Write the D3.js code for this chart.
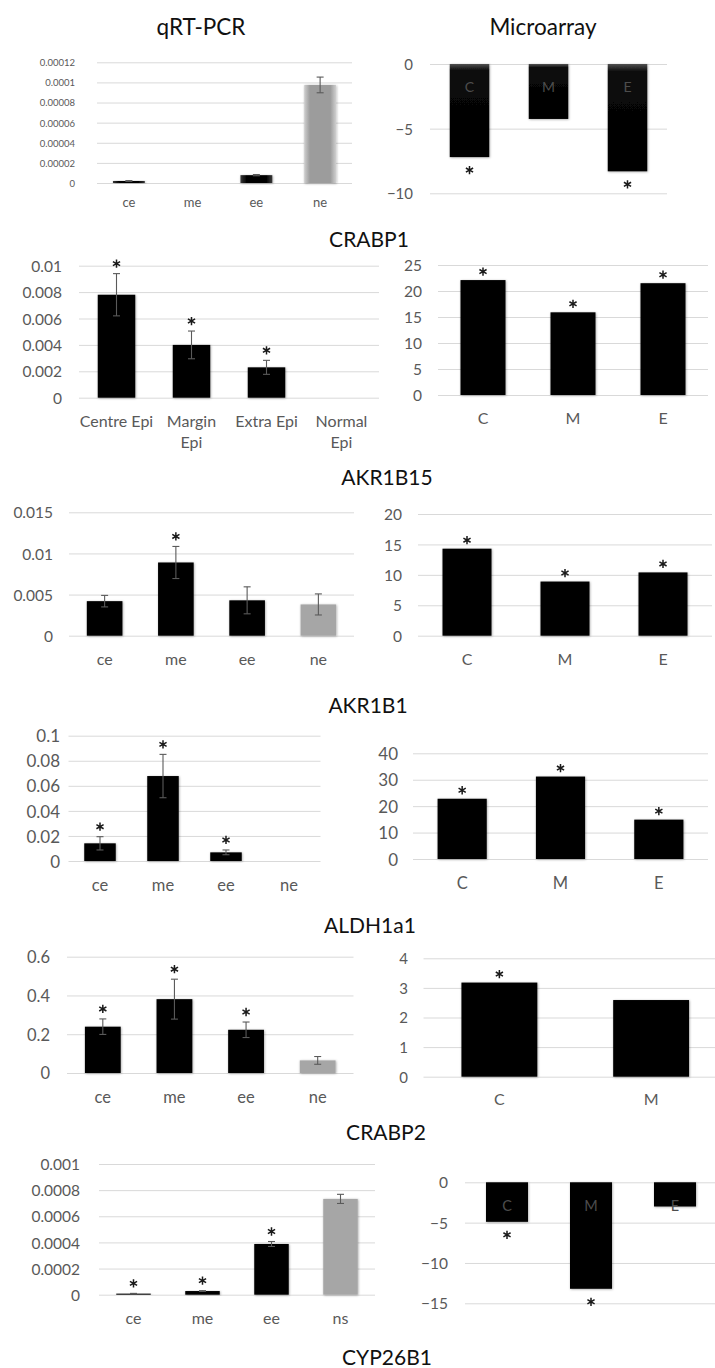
<!DOCTYPE html>
<html>
<head>
<meta charset="utf-8">
<script src="https://cdn.jsdelivr.net/npm/d3@7"></script>
<style>
  html, body { margin: 0; padding: 0; background: #fff; }
  svg { display: block; font-family: Lato, "Open Sans", sans-serif; }
</style>
</head>
<body>
<svg id="fig" width="715" height="1368"></svg>
<script>
// ---- data ----
const qpcrCats = ["ce", "me", "ee", "ne"];
const qpcrCatsLong = ["Centre Epi", "Margin\nEpi", "Extra Epi", "Normal\nEpi"];
const qpcrCatsNs = ["ce", "me", "ee", "ns"];
const arrayCats = ["C", "M", "E"];
const arrayCatsTwo = ["C", "M"];

const geneNames = ["CRABP1", "AKR1B15", "AKR1B1", "ALDH1a1", "CRABP2", "CYP26B1"];

// CRABP1
const crabp1QpcrValues = [0.0000020, 0, 0.0000078, 0.0000975];
const crabp1QpcrErrors = [0.0000004, 0, 0.0000006, 0.0000078];
const crabp1QpcrSig = [false, false, false, false];
const crabp1QpcrTicks = [0, 0.00002, 0.00004, 0.00006, 0.00008, 0.0001, 0.00012];
const crabp1QpcrTickLabels = ["0", "0.00002", "0.00004", "0.00006", "0.00008", "0.0001", "0.00012"];
const crabp1ArrayValues = [-7.2, -4.25, -8.3];
const crabp1ArraySig = [true, false, true];
const crabp1ArrayTicks = [0, -5, -10];

// AKR1B15
const akr1b15QpcrValues = [0.0078, 0.0040, 0.0023, 0];
const akr1b15QpcrErrors = [0.0016, 0.00105, 0.00053, 0];
const akr1b15QpcrSig = [true, true, true, false];
const akr1b15QpcrTicks = [0, 0.002, 0.004, 0.006, 0.008, 0.01];
const akr1b15ArrayValues = [22.1, 15.9, 21.5];
const akr1b15ArraySig = [true, true, true];
const akr1b15ArrayTicks = [0, 5, 10, 15, 20, 25];

// AKR1B1
const akr1b1QpcrValues = [0.0042, 0.0089, 0.0043, 0.0038];
const akr1b1QpcrErrors = [0.0007, 0.00195, 0.00164, 0.00128];
const akr1b1QpcrSig = [false, true, false, false];
const akr1b1QpcrTicks = [0, 0.005, 0.01, 0.015];
const akr1b1ArrayValues = [14.3, 8.9, 10.4];
const akr1b1ArraySig = [true, true, true];
const akr1b1ArrayTicks = [0, 5, 10, 15, 20];

// ALDH1a1
const aldh1a1QpcrValues = [0.0141, 0.0678, 0.0069, 0];
const aldh1a1QpcrErrors = [0.0053, 0.0173, 0.0019, 0];
const aldh1a1QpcrSig = [true, true, true, false];
const aldh1a1QpcrTicks = [0, 0.02, 0.04, 0.06, 0.08, 0.1];
const aldh1a1ArrayValues = [22.8, 31.2, 14.9];
const aldh1a1ArraySig = [true, true, true];
const aldh1a1ArrayTicks = [0, 10, 20, 30, 40];

// CRABP2
const crabp2QpcrValues = [0.239, 0.381, 0.223, 0.065];
const crabp2QpcrErrors = [0.040, 0.103, 0.040, 0.020];
const crabp2QpcrSig = [true, true, true, false];
const crabp2QpcrTicks = [0, 0.2, 0.4, 0.6];
const crabp2ArrayValues = [3.18, 2.59];
const crabp2ArraySig = [true, false];
const crabp2ArrayTicks = [0, 1, 2, 3, 4];

// CYP26B1
const cyp26b1QpcrValues = [0.000008, 0.000028, 0.000388, 0.000733];
const cyp26b1QpcrErrors = [0.000002, 0.000003, 0.000019, 0.000035];
const cyp26b1QpcrSig = [true, true, true, false];
const cyp26b1QpcrTicks = [0, 0.0002, 0.0004, 0.0006, 0.0008, 0.001];
const cyp26b1ArrayValues = [-4.9, -13.2, -3.0];
const cyp26b1ArraySig = [true, true, false];
const cyp26b1ArrayTicks = [0, -5, -10, -15];

// ---- layout of each panel (pixel frame + typography) ----
const panels = [
  { cats: qpcrCats, values: crabp1QpcrValues, errors: crabp1QpcrErrors, sig: crabp1QpcrSig,
    ticks: crabp1QpcrTicks, tickLabels: crabp1QpcrTickLabels, domain: [0, 0.00012],
    x0: 97, x1: 352, yTop: 62.3, yBase: 183, tickX: 75, tickSize: 9.5, catY: 202, catSize: 13, look: "bevel" },
  { cats: arrayCats, values: crabp1ArrayValues, sig: crabp1ArraySig, ticks: crabp1ArrayTicks,
    domain: [-10, 0], x0: 430, x1: 667, yTop: 64, yBase: 193.3, tickX: 413, tickSize: 15,
    inner: 87, innerSize: 14, look: "bevelDown" },

  { cats: qpcrCatsLong, values: akr1b15QpcrValues, errors: akr1b15QpcrErrors, sig: akr1b15QpcrSig,
    ticks: akr1b15QpcrTicks, domain: [0, 0.01], x0: 79, x1: 379, yTop: 265.7, yBase: 397.7,
    tickX: 62, tickSize: 15.5, catY: 421, catSize: 16 },
  { cats: arrayCats, values: akr1b15ArrayValues, sig: akr1b15ArraySig, ticks: akr1b15ArrayTicks,
    domain: [0, 25], x0: 438, x1: 708, yTop: 265, yBase: 395, tickX: 422, tickSize: 15.5, catY: 418, catSize: 16 },

  { cats: qpcrCats, values: akr1b1QpcrValues, errors: akr1b1QpcrErrors, sig: akr1b1QpcrSig,
    ticks: akr1b1QpcrTicks, domain: [0, 0.015], x0: 69, x1: 354, yTop: 512.3, yBase: 635.7,
    tickX: 53, tickSize: 15.5, catY: 659, catSize: 16 },
  { cats: arrayCats, values: akr1b1ArrayValues, sig: akr1b1ArraySig, ticks: akr1b1ArrayTicks,
    domain: [0, 20], x0: 418, x1: 712, yTop: 514, yBase: 635.7, tickX: 402, tickSize: 15.5, catY: 659, catSize: 16 },

  { cats: qpcrCats, values: aldh1a1QpcrValues, errors: aldh1a1QpcrErrors, sig: aldh1a1QpcrSig,
    ticks: aldh1a1QpcrTicks, domain: [0, 0.1], x0: 68.5, x1: 320.5, yTop: 735.7, yBase: 861,
    tickX: 60, tickSize: 17, catY: 885, catSize: 16.5 },
  { cats: arrayCats, values: aldh1a1ArrayValues, sig: aldh1a1ArraySig, ticks: aldh1a1ArrayTicks,
    domain: [0, 40], x0: 413, x1: 708, yTop: 753.3, yBase: 859, tickX: 398, tickSize: 17, catY: 883, catSize: 16.5 },

  { cats: qpcrCats, values: crabp2QpcrValues, errors: crabp2QpcrErrors, sig: crabp2QpcrSig,
    ticks: crabp2QpcrTicks, domain: [0, 0.6], x0: 67, x1: 353.5, yTop: 956.7, yBase: 1073,
    tickX: 50, tickSize: 16.5, catY: 1097, catSize: 16.5 },
  { cats: arrayCatsTwo, values: crabp2ArrayValues, sig: crabp2ArraySig, ticks: crabp2ArrayTicks,
    domain: [0, 4], x0: 423.5, x1: 727, yTop: 958.3, yBase: 1076.7, tickX: 408, tickSize: 15, catY: 1099, catSize: 16 },

  { cats: qpcrCatsNs, values: cyp26b1QpcrValues, errors: cyp26b1QpcrErrors, sig: cyp26b1QpcrSig,
    ticks: cyp26b1QpcrTicks, domain: [0, 0.001], x0: 99, x1: 375, yTop: 1164, yBase: 1294.7,
    tickX: 80, tickSize: 15.5, catY: 1318, catSize: 16 },
  { cats: arrayCats, values: cyp26b1ArrayValues, sig: cyp26b1ArraySig, ticks: cyp26b1ArrayTicks,
    domain: [-15, 0], x0: 465, x1: 717, yTop: 1182.3, yBase: 1303.3, tickX: 448, tickSize: 15.5,
    inner: 1206, innerSize: 14.5 }
];

const geneLabelPos = [[369, 239], [387, 477], [368, 705], [370, 925], [386, 1132], [387, 1357]];

const GRID = "#d9d9d9", TICK = "#595959", BAR = "#000", CONTROL = "#a6a6a6", ERR = "#5a5a5a";

const svg = d3.select("#fig");
svg.append("rect").attr("width", 715).attr("height", 1368).attr("fill", "#fff");

// gradients and soft shadow used by the bars
const defs = svg.append("defs");
const shadow = defs.append("filter").attr("id", "soft").attr("x", "-20%").attr("y", "-20%")
  .attr("width", "140%").attr("height", "140%");
shadow.append("feDropShadow").attr("dx", 0.6).attr("dy", 0.6).attr("stdDeviation", 0.9)
  .attr("flood-color", "#000").attr("flood-opacity", 0.35);

function hGrad(id, edge, mid) {
  const g = defs.append("linearGradient").attr("id", id).attr("x1", 0).attr("x2", 1).attr("y1", 0).attr("y2", 0);
  [[0, edge], [0.18, mid], [0.82, mid], [1, edge]].forEach(([o, c]) =>
    g.append("stop").attr("offset", o).attr("stop-color", c));
}
hGrad("bevelBlack", "#3a3a3a", "#050505");
hGrad("bevelGrey", "#cfcfcf", "#9c9c9c");
const vg = defs.append("linearGradient").attr("id", "bevelDown").attr("x1", 0).attr("x2", 0).attr("y1", 0).attr("y2", 1);
[[0, "#505050"], [0.07, "#0a0a0a"], [1, "#000"]].forEach(([o, c]) =>
  vg.append("stop").attr("offset", o).attr("stop-color", c));

// column headings
svg.append("text").attr("x", 201).attr("y", 35).attr("text-anchor", "middle")
  .attr("font-size", 22.5).attr("fill", "#111").text("qRT-PCR");
svg.append("text").attr("x", 543).attr("y", 35).attr("text-anchor", "middle")
  .attr("font-size", 22.5).attr("fill", "#111").text("Microarray");

// gene names under each row
geneNames.forEach((name, i) => {
  svg.append("text").attr("x", geneLabelPos[i][0]).attr("y", geneLabelPos[i][1] + 7.5)
    .attr("text-anchor", "middle").attr("font-size", 21).attr("fill", "#111").text(name);
});

const star = d3.symbol().type(d3.symbolAsterisk).size(48);

panels.forEach(p => {
  const g = svg.append("g");
  const neg = p.domain[1] <= 0;
  const y = d3.scaleLinear().domain(neg ? [p.domain[0], 0] : p.domain).range([p.yBase, p.yTop]);
  const x = d3.scaleBand().domain(p.cats).range([p.x0, p.x1]).paddingInner(0.5).paddingOuter(0.25);

  // gridlines + tick labels
  const axis = d3.axisLeft(y).tickValues(p.ticks).tickSize(-(p.x1 - p.x0)).tickPadding(0)
    .tickFormat((d, i) => p.tickLabels ? p.tickLabels[i] : d3.format("~g")(d));
  const ax = g.append("g").attr("transform", `translate(${p.x0},0)`).call(axis);
  ax.select(".domain").remove();
  ax.selectAll(".tick line").attr("stroke", GRID).attr("stroke-width", 1);
  ax.selectAll(".tick text").attr("x", p.tickX - p.x0).attr("dy", "0.36em")
    .attr("fill", TICK).attr("font-size", p.tickSize).attr("font-family", "Lato, sans-serif");

  const zero = y(0);
  p.values.forEach((v, i) => {
    const cat = p.cats[i];
    const bx = x(cat), bw = x.bandwidth(), cx = bx + bw / 2;
    const control = p.errors && i === p.cats.length - 1;
    let fill = control ? CONTROL : BAR;
    if (p.look === "bevel") fill = control ? "url(#bevelGrey)" : "url(#bevelBlack)";
    if (p.look === "bevelDown") fill = "url(#bevelDown)";
    const top = Math.min(y(v), zero), h = Math.abs(y(v) - zero);
    if (h > 0.2) {
      g.append("rect").attr("x", bx).attr("y", top).attr("width", bw).attr("height", Math.max(h, 1))
        .attr("fill", fill).attr("filter", "url(#soft)");
    }
    // error bar
    if (p.errors && p.errors[i] > 0) {
      const yHi = y(v + p.errors[i]), yLo = y(v - p.errors[i]);
      const cap = 3.5;
      const eg = g.append("g").attr("stroke", ERR).attr("stroke-width", 1.1);
      eg.append("line").attr("x1", cx).attr("x2", cx).attr("y1", yHi).attr("y2", yLo);
      eg.append("line").attr("x1", cx - cap).attr("x2", cx + cap).attr("y1", yHi).attr("y2", yHi);
      eg.append("line").attr("x1", cx - cap).attr("x2", cx + cap).attr("y1", yLo).attr("y2", yLo);
    }
    // significance marks
    if (p.sig[i]) {
      let sy;
      if (v < 0) sy = y(v) + 13;
      else sy = (p.errors ? y(v + p.errors[i]) : y(v)) - (p.errors ? 10 : 8.5);
      g.append("path").attr("d", star).attr("transform", `translate(${cx},${sy})`)
        .attr("fill", "none").attr("stroke", "#1a1a1a").attr("stroke-width", 1.5);
    }
    // category labels
    if (p.inner) {
      g.append("text").attr("x", cx).attr("y", p.inner).attr("dy", "0.35em").attr("text-anchor", "middle")
        .attr("font-size", p.innerSize).attr("fill", "#4d4d4d").text(cat);
    } else {
      cat.split("\n").forEach((ln, k) => {
        g.append("text").attr("x", cx).attr("y", p.catY + k * 21).attr("dy", "0.35em")
          .attr("text-anchor", "middle").attr("font-size", p.catSize).attr("fill", TICK).text(ln);
      });
    }
  });
});
</script>
</body>
</html>
